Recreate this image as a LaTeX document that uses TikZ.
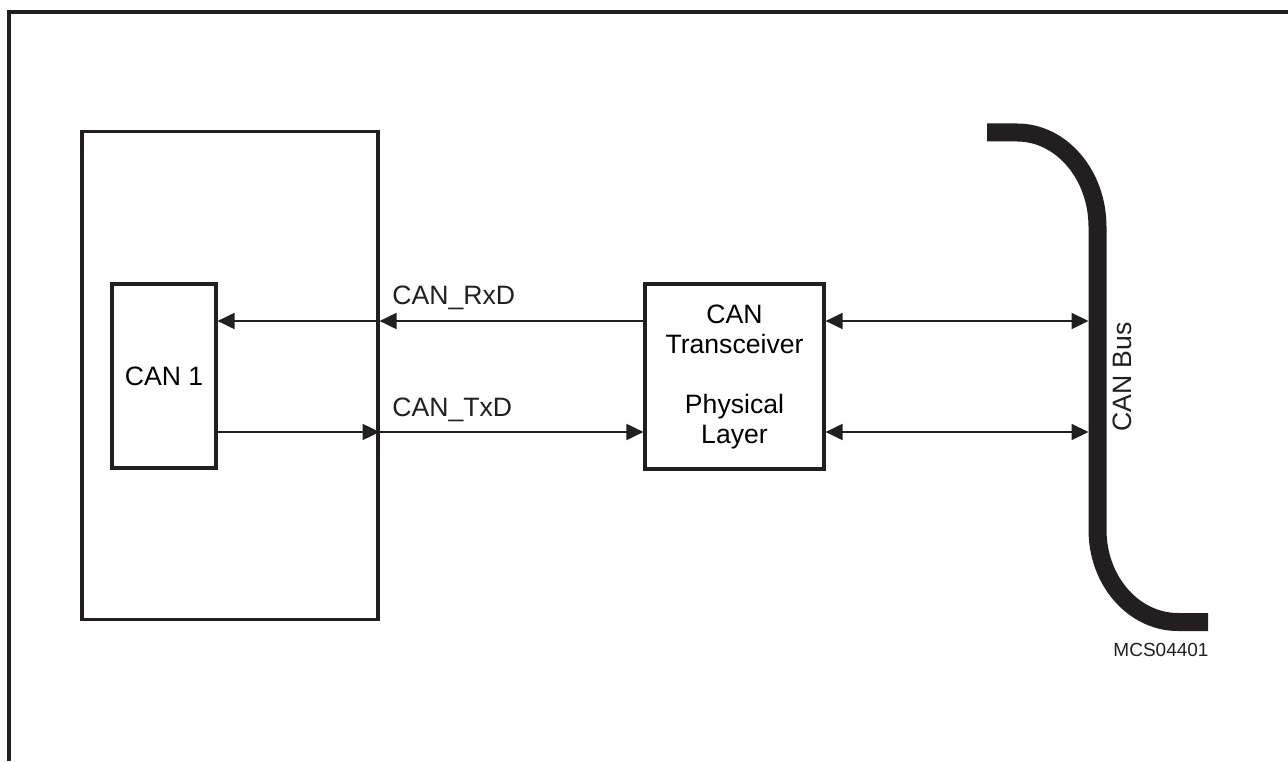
\documentclass[tikz,border=0pt]{standalone}
\usepackage{fontspec}
\setmainfont{Liberation Sans}
\usetikzlibrary{arrows.meta,positioning,calc}
\definecolor{ink}{HTML}{231F20}

\begin{document}
\begin{tikzpicture}[x=0.5pt, y=0.5pt,
  box/.style={draw=ink, line width=1.6pt, inner sep=0pt, align=center,
              font=\fontsize{13.3}{15}\selectfont},
  arr/.style={-{Triangle[length=8.5pt, width=8pt]}, ink, line width=1pt},
  both/.style={{Triangle[length=8.5pt, width=8pt]}-{Triangle[length=8.5pt, width=8pt]}, ink, line width=1pt},
  lbl/.style={text=ink, inner sep=0pt, font=\fontsize{13.3}{15}\selectfont}]
  \useasboundingbox (0,0) rectangle (1288,761);
  \draw[ink, line width=1.6pt] (9,0) -- (9,749) -- (1288,749);
  % signal rows
  \coordinate (rx) at (0,440);
  \coordinate (tx) at (0,329);
  \node[box, minimum width=148pt, minimum height=244pt] (mcu) at (230,385.5) {};
  \node[box, minimum width=52pt, minimum height=92pt] (can1) at (164,385) {CAN 1};
  \node[box, minimum width=89.5pt, minimum height=92.5pt] (trx) at (734.5,384.5)
    {CAN\\Transceiver\\[15pt]Physical\\Layer};
  \draw[arr] (trx.west |- rx) -- (mcu.east |- rx);
  \draw[arr] (mcu.east |- rx) -- (can1.east |- rx);
  \draw[arr] (can1.east |- tx) -- (mcu.east |- tx);
  \draw[arr] (mcu.east |- tx) -- (trx.west |- tx);
  \node[lbl, anchor=base west] (rxd) at (392,456) {CAN\_RxD};
  \node[lbl, anchor=base west] (txd) at (392,345) {CAN\_TxD};
  % bus
  \draw[ink, line width=9pt] (987,628.5) -- (1017,628.5)
    arc[start angle=90, end angle=0, x radius=80.5, y radius=94.5]
    -- (1097.5,231)
    arc[start angle=180, end angle=270, x radius=80.5, y radius=92]
    -- (1208,139);
  \coordinate (busrx) at (1088.5,440);
  \coordinate (bustx) at (1088.5,329);
  \draw[both] (trx.east |- rx) -- (busrx);
  \draw[both] (trx.east |- tx) -- (bustx);
  \node[lbl, rotate=90] (bus) at (1122,384) {CAN Bus};
  \node[lbl, font=\fontsize{9.5}{11}\selectfont] (code) at (1161,111) {MCS04401};
\end{tikzpicture}
\end{document}
